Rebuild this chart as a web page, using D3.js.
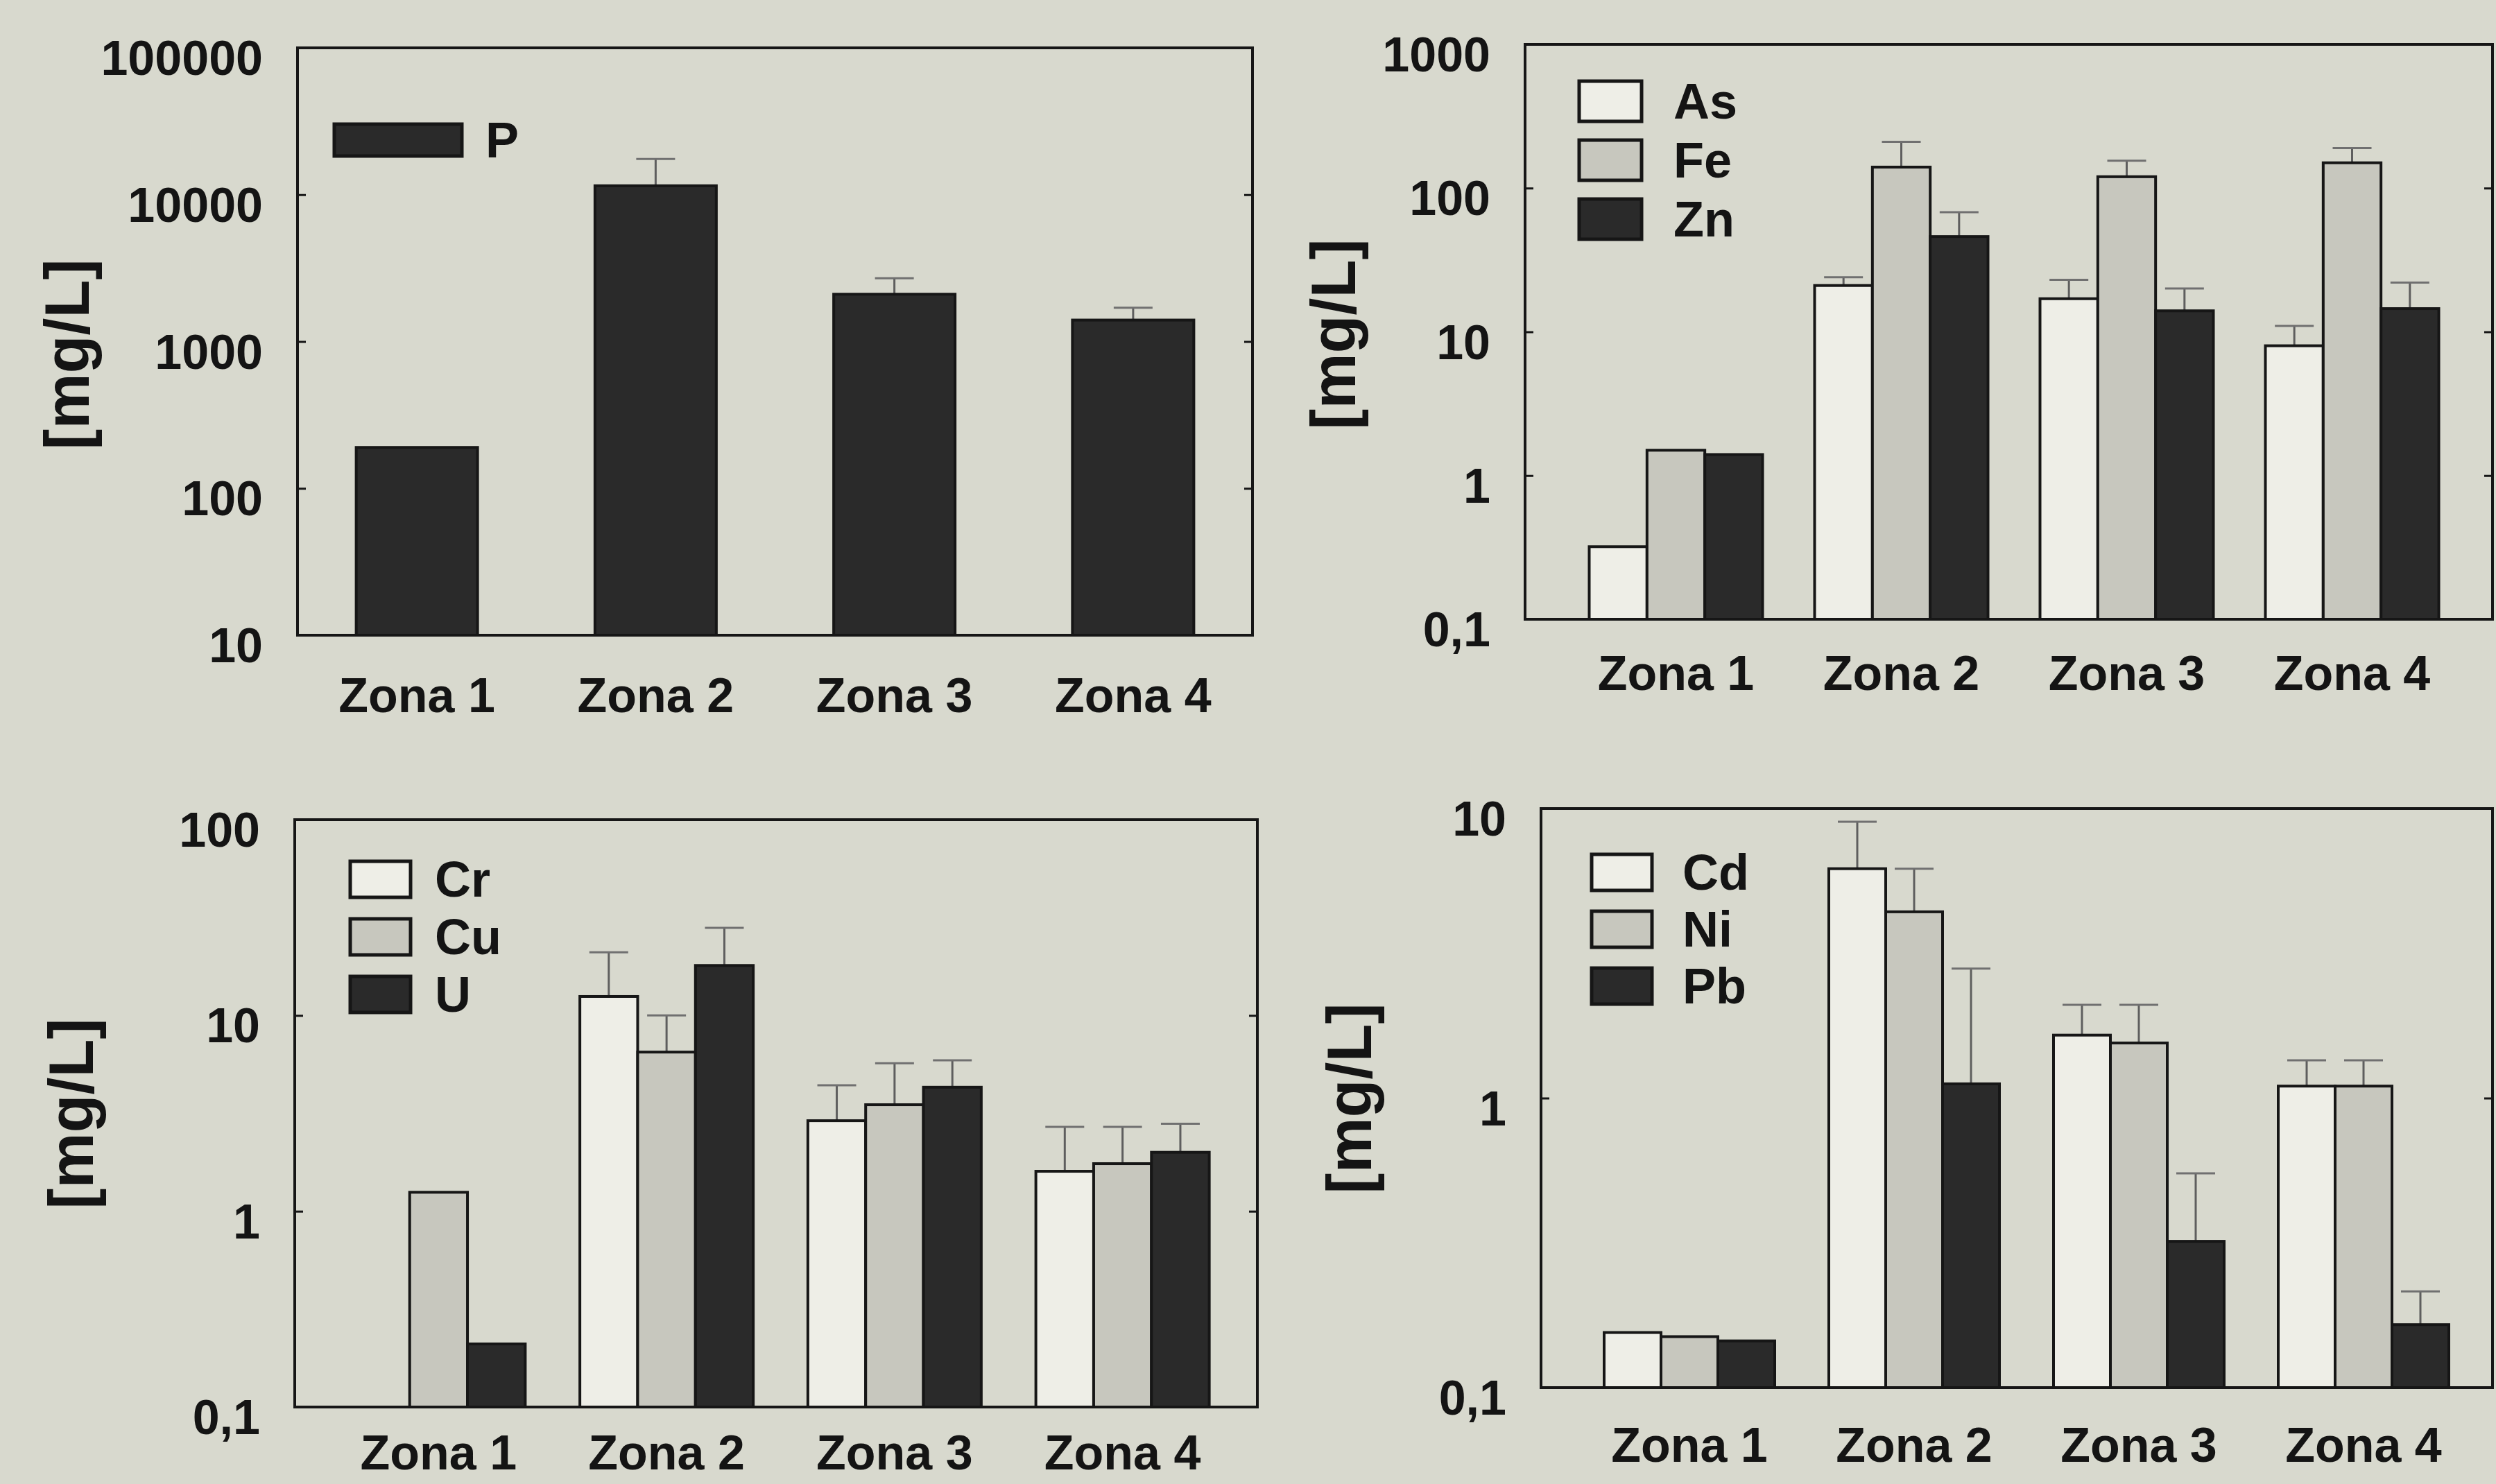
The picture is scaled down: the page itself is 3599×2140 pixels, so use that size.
<!DOCTYPE html>
<html><head><meta charset="utf-8">
<script src="https://cdn.jsdelivr.net/npm/d3@7/dist/d3.min.js"></script>
<style>
html,body{margin:0;padding:0;background:#d8d9ce;}
svg{display:block;}
text{font-family:"Liberation Sans",Arial,sans-serif;font-weight:bold;fill:#141414;}
</style></head>
<body>
<svg id="chart" width="3599" height="2140"></svg>
<script>
// ---------- DATA ----------
const zones = ["Zona 1", "Zona 2", "Zona 3", "Zona 4"];

// Panel A (top-left)
const seriesA = ["P"];
const P = [190, 11500, 2100, 1400];
const P_err = [null, 17500, 2700, 1700];
const ticksA = [10, 100, 1000, 10000, 100000];
const tickLabelsA = ["10", "100", "1000", "10000", "100000"];

// Panel B (top-right)
const seriesB = ["As", "Fe", "Zn"];
const As = [0.32, 21, 17, 8];
const As_err = [null, 24, 23, 11];
const Fe = [1.5, 140, 120, 150];
const Fe_err = [null, 210, 155, 190];
const Zn = [1.4, 46, 14, 14.5];
const Zn_err = [null, 68, 20, 22];
const ticksB = [0.1, 1, 10, 100, 1000];
const tickLabelsB = ["0,1", "1", "10", "100", "1000"];

// Panel C (bottom-left)
const seriesC = ["Cr", "Cu", "U"];
const Cr = [null, 12.5, 2.9, 1.6];
const Cr_err = [null, 21, 4.4, 2.7];
const Cu = [1.25, 6.5, 3.5, 1.75];
const Cu_err = [null, 10, 5.7, 2.7];
const U = [0.21, 18, 4.3, 2.0];
const U_err = [null, 28, 5.9, 2.8];
const ticksC = [0.1, 1, 10, 100];
const tickLabelsC = ["0,1", "1", "10", "100"];

// Panel D (bottom-right)
const seriesD = ["Cd", "Ni", "Pb"];
const Cd = [0.155, 6.2, 1.65, 1.1];
const Cd_err = [null, 9, 2.1, 1.35];
const Ni = [0.15, 4.4, 1.55, 1.1];
const Ni_err = [null, 6.2, 2.1, 1.35];
const Pb = [0.145, 1.12, 0.32, 0.165];
const Pb_err = [null, 2.8, 0.55, 0.215];
const ticksD = [0.1, 1, 10];
const tickLabelsD = ["0,1", "1", "10"];

const yTitle = "[mg/L]";

// ---------- STYLE ----------
const fills = {white: "#eeeee7", grey: "#c7c7be", dark: "#2a2a2a"};

// ---------- LAYOUT ----------
const panels = [
  {series: seriesA, values: [P], errs: [P_err], fillKeys: ["dark"], ticks: ticksA, tickLabels: tickLabelsA,
   box: {l: 429, r: 1806, t: 69, b: 916}, xr: [429, 1806], group: 175, xlabY: 1003,
   ytitle: {x: 97, y: 511},
   legend: {x: 482, y: 179, w: 184, h: 46, step: 0, tx: 700}},
  {series: seriesB, values: [As, Fe, Zn], errs: [As_err, Fe_err, Zn_err], fillKeys: ["white", "grey", "dark"], ticks: ticksB, tickLabels: tickLabelsB,
   box: {l: 2199, r: 3594, t: 64, b: 893}, xr: [2254, 3554], group: 250, xlabY: 971,
   ytitle: {x: 1923, y: 482},
   legend: {x: 2277, y: 117, w: 90, h: 58, step: 85, tx: 2413}},
  {series: seriesC, values: [Cr, Cu, U], errs: [Cr_err, Cu_err, U_err], fillKeys: ["white", "grey", "dark"], ticks: ticksC, tickLabels: tickLabelsC,
   box: {l: 425, r: 1813, t: 1182, b: 2029}, xr: [468, 1783], group: 250, xlabY: 2095,
   ytitle: {x: 103, y: 1606},
   legend: {x: 505, y: 1242, w: 87, h: 52, step: 83, tx: 627}},
  {series: seriesD, values: [Cd, Ni, Pb], errs: [Cd_err, Ni_err, Pb_err], fillKeys: ["white", "grey", "dark"], ticks: ticksD, tickLabels: tickLabelsD,
   box: {l: 2222, r: 3594, t: 1166, b: 2001}, xr: [2274, 3570], group: 246, xlabY: 2084,
   ytitle: {x: 1946, y: 1584},
   legend: {x: 2295, y: 1232, w: 87, h: 52, step: 82, tx: 2426}}
];

const svg = d3.select("#chart");
svg.append("rect").attr("width", 3599).attr("height", 2140).attr("fill", "#d8d9ce");

panels.forEach(p => {
  const g = svg.append("g");
  const b = p.box;
  const dom = [p.ticks[0], p.ticks[p.ticks.length - 1]];
  const y = d3.scaleLog().domain(dom).range([b.b, b.t]);
  const x0 = d3.scaleBand().domain(zones).range(p.xr).padding(0);
  const x1 = d3.scaleBand().domain(p.series)
    .range([(x0.bandwidth() - p.group) / 2, (x0.bandwidth() + p.group) / 2]).padding(0);

  // bars
  p.series.forEach((s, si) => {
    const vals = p.values[si], errs = p.errs[si];
    zones.forEach((z, zi) => {
      const v = vals[zi];
      if (v == null) return;
      const bx = x0(z) + x1(s);
      const e = errs[zi];
      if (e != null) {
        const cx = bx + x1.bandwidth() / 2;
        g.append("line").attr("x1", cx).attr("x2", cx).attr("y1", y(v)).attr("y2", y(e))
          .attr("stroke", "#5e5e5e").attr("stroke-width", 3);
        g.append("line").attr("x1", cx - 28).attr("x2", cx + 28).attr("y1", y(e)).attr("y2", y(e))
          .attr("stroke", "#707070").attr("stroke-width", 3);
      }
      g.append("rect").attr("x", bx).attr("y", y(v))
        .attr("width", x1.bandwidth()).attr("height", y(dom[0]) - y(v))
        .attr("fill", fills[p.fillKeys[si]]).attr("stroke", "#161616").attr("stroke-width", 4);
    });
  });

  // frame
  g.append("rect").attr("x", b.l).attr("y", b.t).attr("width", b.r - b.l).attr("height", b.b - b.t)
    .attr("fill", "none").attr("stroke", "#161616").attr("stroke-width", 4);

  // left axis
  const fmt = d => p.tickLabels[p.ticks.indexOf(d)];
  const la = g.append("g").attr("transform", `translate(${b.l},0)`)
    .call(d3.axisLeft(y).tickValues(p.ticks).tickFormat(fmt).tickSizeInner(-12).tickSizeOuter(0).tickPadding(50));
  la.select(".domain").remove();
  la.selectAll("line").attr("stroke", "#161616").attr("stroke-width", 3);
  la.selectAll("text").attr("font-size", 70).attr("font-family", '"Liberation Sans", Arial, sans-serif')
    .attr("font-weight", "bold").attr("fill", "#141414").attr("dy", "0.55em");

  // right axis ticks
  const ra = g.append("g").attr("transform", `translate(${b.r},0)`)
    .call(d3.axisRight(y).tickValues(p.ticks).tickFormat("").tickSizeInner(-12).tickSizeOuter(0));
  ra.select(".domain").remove();
  ra.selectAll("line").attr("stroke", "#161616").attr("stroke-width", 3);

  // x labels
  g.selectAll(".xl").data(zones).enter().append("text")
    .attr("x", d => x0(d) + x0.bandwidth() / 2).attr("y", p.xlabY)
    .attr("text-anchor", "middle").attr("dominant-baseline", "central")
    .attr("font-size", 70).text(d => d);

  // y title
  g.append("text").attr("transform", `translate(${p.ytitle.x},${p.ytitle.y}) rotate(-90)`)
    .attr("text-anchor", "middle").attr("dominant-baseline", "central")
    .attr("font-size", 90).text(yTitle);

  // legend
  const L = p.legend;
  p.series.forEach((s, si) => {
    const ly = L.y + si * L.step;
    g.append("rect").attr("x", L.x).attr("y", ly).attr("width", L.w).attr("height", L.h)
      .attr("fill", fills[p.fillKeys[si]]).attr("stroke", "#161616").attr("stroke-width", 5);
    g.append("text").attr("x", L.tx).attr("y", ly + L.h / 2).attr("dominant-baseline", "central")
      .attr("font-size", 72).text(s);
  });
});
</script>
</body></html>
